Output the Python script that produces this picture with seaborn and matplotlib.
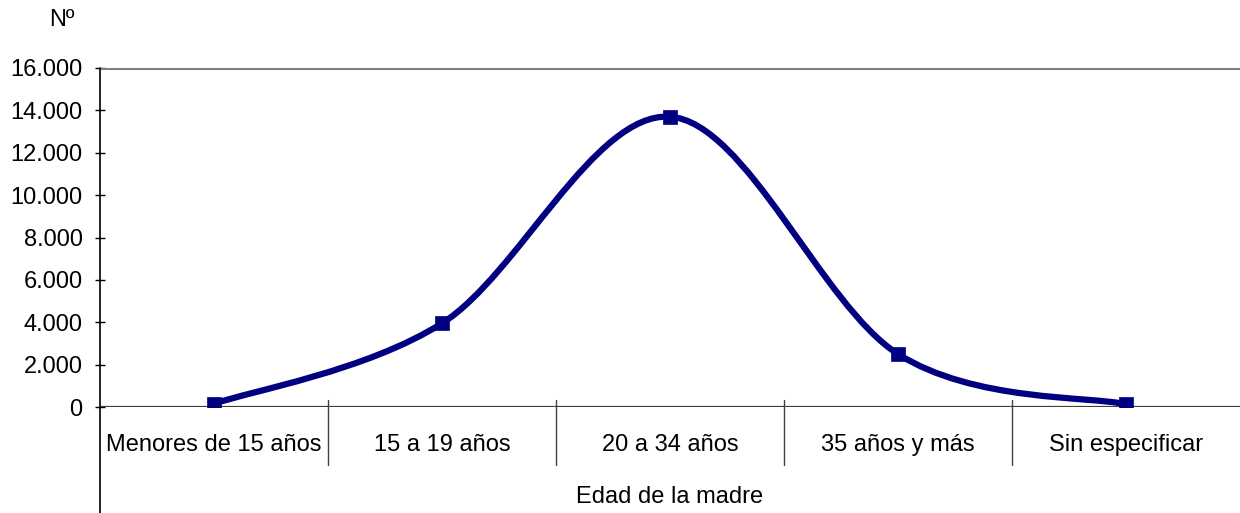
import numpy as np
import pandas as pd
import matplotlib
matplotlib.use("Agg")
import matplotlib.pyplot as plt
import matplotlib.transforms as mtransforms
from matplotlib.path import Path
from matplotlib.patches import PathPatch
from matplotlib.ticker import FuncFormatter
import seaborn as sns

# Nacimientos según edad de la madre
categorias = ["Menores de 15 años", "15 a 19 años", "20 a 34 años",
              "35 años y más", "Sin especificar"]
nacimientos = [150, 3950, 13700, 2500, 130]
ticks_y = [0, 2000, 4000, 6000, 8000, 10000, 12000, 14000, 16000]

sns.set_theme(style="white")
plt.rcParams["font.family"] = ["Liberation Sans", "DejaVu Sans"]

azul = "#000080"
gris_eje = "#404040"
fs = 17

fig = plt.figure(figsize=(12.4, 5.13), dpi=100)
ax = fig.add_axes([100 / 1240, (513 - 407) / 513, 1140 / 1240, 339 / 513])

df = pd.DataFrame({"pos": np.arange(len(categorias)), "valor": nacimientos})

# Smoothed line through the points (cubic Bezier segments, Catmull-Rom style)
pts = df[["pos", "valor"]].to_numpy(dtype=float)
ext = np.vstack([pts[0], pts, pts[-1]])
verts = [tuple(pts[0])]
codes = [Path.MOVETO]
for i in range(len(pts) - 1):
    p0, p1, p2, p3 = ext[i], ext[i + 1], ext[i + 2], ext[i + 3]
    c1 = p1 + (p2 - p0) / 6.0
    c2 = p2 - (p3 - p1) / 6.0
    verts += [tuple(c1), tuple(c2), tuple(p2)]
    codes += [Path.CURVE4] * 3
curva = PathPatch(Path(verts, codes), facecolor="none", edgecolor=azul,
                  lw=4.5, capstyle="round", joinstyle="round", zorder=3)
ax.add_patch(curva)

sns.scatterplot(data=df, x="pos", y="valor", marker="s", s=100, color=azul,
                edgecolor=azul, linewidth=0.5, ax=ax, zorder=4, legend=False)

ax.set_xlim(-0.5, len(categorias) - 0.5)
ax.set_ylim(0, 16000)
ax.set_yticks(ticks_y)
ax.yaxis.set_major_formatter(FuncFormatter(lambda v, _: f"{int(v):,}".replace(",", ".")))
ax.set_xticks([])
ax.set_xlabel("")
ax.set_ylabel("")

for s in ["top", "right", "bottom", "left"]:
    ax.spines[s].set_visible(False)

# Top gridline and base axis
ax.axhline(16000, color="#808080", lw=2.2, zorder=1)
ax.axhline(0, color=gris_eje, lw=1.6, zorder=2)

# Left axis extending down through the category area
trans_x = mtransforms.blended_transform_factory(ax.transAxes, ax.transAxes)
ax.plot([0, 0], [-0.313, 1.0], transform=trans_x, color="#000000", lw=1.2,
        clip_on=False, zorder=2)

ax.tick_params(axis="y", direction="inout", length=7, width=1.0,
               color="#000000", pad=9, labelsize=fs, left=True, labelcolor="black")

# Category dividers
trans_b = mtransforms.blended_transform_factory(ax.transData, ax.transAxes)
for b in np.arange(0.5, len(categorias) - 0.5, 1.0):
    ax.plot([b, b], [-0.171, 0.021], transform=trans_b, color=gris_eje,
            lw=1.0, clip_on=False, zorder=2)

for i, c in enumerate(categorias):
    ax.text(i, -0.112, c, transform=trans_b, ha="center", va="center",
            fontsize=fs, color="black")

ax.text(0.5, -0.265, "Edad de la madre", transform=ax.transAxes,
        ha="center", va="center", fontsize=fs, color="black")

fig.text(62 / 1240, 1 - 20 / 513, "Nº", ha="center", va="center",
         fontsize=fs, color="black")

fig.savefig("out.png", dpi=100, facecolor="white")
